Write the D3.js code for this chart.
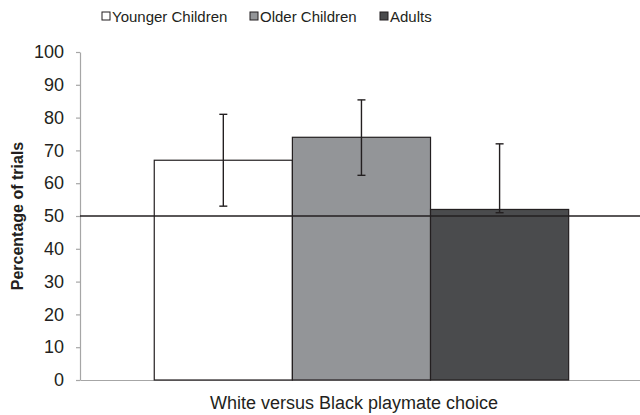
<!DOCTYPE html>
<html>
<head>
<meta charset="utf-8">
<script src="https://cdn.jsdelivr.net/npm/d3@7/dist/d3.min.js"></script>
<style>
  html, body { margin: 0; padding: 0; background: #fff; }
  svg { display: block; font-family: "Liberation Sans", Arial, sans-serif; }
</style>
</head>
<body>
<svg id="chart" width="640" height="415"></svg>
<script>
// Playmate choice data
const categories = ["White versus Black playmate choice"];
const seriesNames = ["Younger Children", "Older Children", "Adults"];
const seriesColors = ["#ffffff", "#939598", "#4a4b4d"];
const values = [67, 74, 52];
const errLow = [53, 62.4, 51];
const errHigh = [81, 85.4, 72];
const yTicks = [0, 10, 20, 30, 40, 50, 60, 70, 80, 90, 100];
const chanceLevel = 50;

const svg = d3.select("#chart");
const margin = { left: 80, right: 0, top: 52, bottom: 35 };
const W = 640, H = 415;
const ink = "#231f20";
const axisGray = "#a6a6a6";

const y = d3.scaleLinear().domain([0, 100]).range([H - margin.bottom, margin.top]);
const x0 = d3.scaleBand().domain(categories)
  .range([margin.left, W - margin.right])
  .paddingInner(0.26).paddingOuter(0.13).align(0.51);
const x1 = d3.scaleBand().domain(seriesNames).range([0, x0.bandwidth()]);

// Y axis
const yAxis = svg.append("g")
  .attr("transform", `translate(${margin.left},0)`)
  .call(d3.axisLeft(y).tickValues(yTicks).tickSize(4).tickPadding(12).tickSizeOuter(0));
yAxis.select(".domain").attr("stroke", axisGray).attr("stroke-width", 1.2);
yAxis.selectAll(".tick line").attr("stroke", axisGray).attr("stroke-width", 1.2);
yAxis.selectAll(".tick text").attr("fill", ink).style("font-size", "18px");

// X axis baseline
const xAxis = svg.append("g")
  .attr("transform", `translate(0,${y(0)})`)
  .call(d3.axisBottom(x0).tickSize(0).tickFormat(""));
xAxis.select(".domain").attr("stroke", axisGray).attr("stroke-width", 1.2);

// Bars
const g = svg.append("g");
categories.forEach((cat) => {
  seriesNames.forEach((s, i) => {
    g.append("rect")
      .attr("x", x0(cat) + x1(s))
      .attr("y", y(values[i]))
      .attr("width", x1.bandwidth())
      .attr("height", y(0) - y(values[i]))
      .attr("fill", seriesColors[i])
      .attr("stroke", ink)
      .attr("stroke-width", 1.2);
  });
});

// Chance reference line
svg.append("line")
  .attr("x1", margin.left).attr("x2", W)
  .attr("y1", y(chanceLevel)).attr("y2", y(chanceLevel))
  .attr("stroke", ink).attr("stroke-width", 1.3);

// Error bars
const capHalf = 4;
categories.forEach((cat) => {
  seriesNames.forEach((s, i) => {
    const cx = x0(cat) + x1(s) + x1.bandwidth() / 2;
    const eg = g.append("g").attr("stroke", ink).attr("stroke-width", 1.4);
    eg.append("line").attr("x1", cx).attr("x2", cx).attr("y1", y(errHigh[i])).attr("y2", y(errLow[i]));
    eg.append("line").attr("x1", cx - capHalf).attr("x2", cx + capHalf).attr("y1", y(errHigh[i])).attr("y2", y(errHigh[i]));
    eg.append("line").attr("x1", cx - capHalf).attr("x2", cx + capHalf).attr("y1", y(errLow[i])).attr("y2", y(errLow[i]));
  });
});

// Axis titles
svg.append("text")
  .attr("transform", `translate(23,${(y(0) + y(100)) / 2}) rotate(-90)`)
  .attr("text-anchor", "middle")
  .attr("fill", ink)
  .style("font-size", "16px").style("font-weight", "bold")
  .text("Percentage of trials");

svg.append("text")
  .attr("x", 354).attr("y", 409)
  .attr("text-anchor", "middle")
  .attr("fill", ink)
  .style("font-size", "18px")
  .text(categories[0]);

// Legend
const legendX = [102, 250, 380];
const legend = svg.append("g");
seriesNames.forEach((s, i) => {
  const lg = legend.append("g").attr("transform", `translate(${legendX[i]},12)`);
  lg.append("rect").attr("x", 0).attr("y", 0).attr("width", 8).attr("height", 8)
    .attr("fill", seriesColors[i]).attr("stroke", ink).attr("stroke-width", 1);
  lg.append("text").attr("x", 10).attr("y", 9.5)
    .attr("fill", ink).style("font-size", "15px").text(s);
});
</script>
</body>
</html>
